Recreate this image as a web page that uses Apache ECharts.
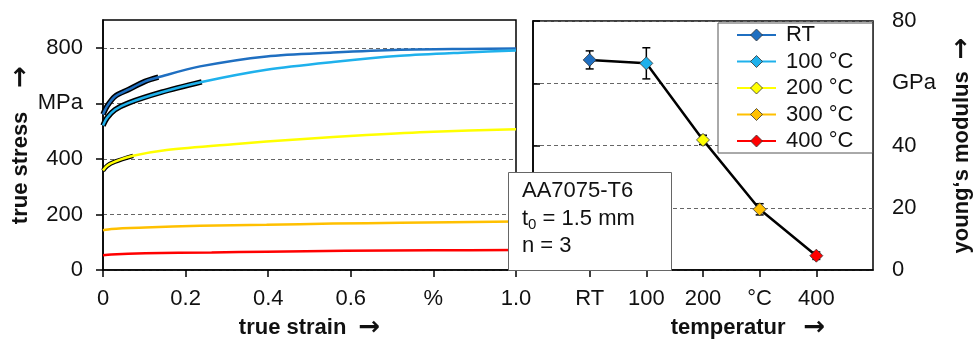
<!DOCTYPE html>
<html><head><meta charset="utf-8">
<script src="https://cdn.jsdelivr.net/npm/echarts@6/dist/echarts.min.js"></script>
<style>html,body{margin:0;padding:0;background:#fff}#c{width:977px;height:339px}</style>
</head><body><div id="c"></div>
<script>
// ---------- data ----------
const seriesNames = ['RT', '100 °C', '200 °C', '300 °C', '400 °C'];
const seriesColors = ['#1f6fc1', '#1fb1ec', '#ffff00', '#ffc000', '#ff0000'];

// true strain / true stress (MPa) pairs
const curveRT = [[0,560],[0.01,590],[0.029,625],[0.061,649],[0.102,679],[0.134,694],[0.235,733],[0.396,769],[0.557,783],[0.72,793],[0.88,796],[1.0,797]];
const curve100 = [[0,520],[0.01,548],[0.029,577],[0.061,601],[0.142,640],[0.239,677],[0.396,721],[0.557,749],[0.72,771],[0.88,783],[1.0,790]];
const curve200 = [[0,358],[0.01,375],[0.029,390],[0.073,411],[0.154,432],[0.315,453],[0.477,471],[0.638,486],[0.8,498],[1.0,507]];
const curve300 = [[0,143],[0.02,148],[0.102,153],[0.235,159],[0.396,163],[0.557,167],[0.72,170],[1.0,175]];
const curve400 = [[0,53],[0.02,56],[0.102,60],[0.263,63],[0.396,66],[0.586,69],[0.8,71],[1.0,72]];
const curves = [curveRT, curve100, curve200, curve300, curve400];
// end strain of the black measured-data overlay per curve
const blackEnds = [0.134, 0.239, 0.073, 0, 0];

// young's modulus (GPa) per temperature
const tempLabels = ['RT', '100', '200', '°C', '400'];
const tempPos = [1, 2, 3, 4, 5];
const modulus = [67.5, 66.4, 41.8, 19.5, 4.6];
const modulusErr = [2.9, 5.0, 1.5, 1.8, 1.2];

// tick labels
const stressTicks = [0, 200, 400, 600, 800];
const stressLabels = ['0', '200', '400', 'MPa', '800'];
const strainTicks = [0, 0.2, 0.4, 0.6, 0.8, 1.0];
const strainLabels = ['0', '0.2', '0.4', '0.6', '%', '1.0'];
const modTicks = [0, 20, 40, 60, 80];
const modLabels = ['0', '20', '40', 'GPa', '80'];

// ---------- chart ----------
const FF = '"Liberation Sans", Arial, sans-serif';
const AF = '"DejaVu Sans", sans-serif';
const TXT = '#111';
function lookup(ticks, labels) {
  return v => { for (let i = 0; i < ticks.length; i++) if (Math.abs(ticks[i] - v) < 1e-6) return labels[i]; return ''; };
}
const dashed = { show: true, lineStyle: { color: '#666', width: 1, type: [4, 3] } };
const axisLineBlack = { show: true, lineStyle: { color: '#000', width: 1.5 } };
const tickOut = { show: true, inside: false, length: 7, lineStyle: { color: '#000', width: 1.5 } };
const lbl = { color: TXT, fontSize: 22, fontFamily: FF };
const nameRich = (gap) => ({
  color: TXT, fontFamily: FF,
  rich: {
    t: { fontSize: 22, fontWeight: 'bold', fontFamily: FF, color: TXT, lineHeight: 26 },
    a: { fontSize: 26, fontWeight: 'bold', fontFamily: AF, color: TXT, lineHeight: 26, padding: [0, 0, 0, gap] }
  }
});

const series = [];
// black overlays (measured portions)
curves.forEach((c, i) => {
  if (blackEnds[i] <= 0) return;
  series.push({
    type: 'line', name: 'blk' + i, xAxisIndex: 0, yAxisIndex: 0,
    data: c.filter(p => p[0] <= blackEnds[i] + 1e-9),
    smooth: 0.3, showSymbol: false, silent: true,
    lineStyle: { color: '#000', width: i < 2 ? 5.5 : 4.5 }, z: 2
  });
});
curves.forEach((c, i) => {
  series.push({
    type: 'line', name: seriesNames[i], xAxisIndex: 0, yAxisIndex: 0,
    data: c, smooth: 0.3, symbol: 'diamond', showSymbol: false,
    color: seriesColors[i],
    lineStyle: { color: seriesColors[i], width: 2.5 },
    itemStyle: { color: seriesColors[i], borderColor: '#333', borderWidth: 0.8 },
    z: 3
  });
});
// error bars
series.push({
  type: 'custom', name: 'err', xAxisIndex: 1, yAxisIndex: 1, z: 3,
  data: tempPos.map((x, i) => [x, modulus[i] - modulusErr[i], modulus[i] + modulusErr[i]]),
  renderItem: (params, api) => {
    const lo = api.coord([api.value(0), api.value(1)]);
    const hi = api.coord([api.value(0), api.value(2)]);
    const w = 4;
    const st = { stroke: '#000', lineWidth: 1.5 };
    return { type: 'group', children: [
      { type: 'line', shape: { x1: lo[0], y1: lo[1], x2: hi[0], y2: hi[1] }, style: st },
      { type: 'line', shape: { x1: lo[0] - w, y1: lo[1], x2: lo[0] + w, y2: lo[1] }, style: st },
      { type: 'line', shape: { x1: hi[0] - w, y1: hi[1], x2: hi[0] + w, y2: hi[1] }, style: st }
    ]};
  }
});
series.push({
  type: 'line', name: 'E', xAxisIndex: 1, yAxisIndex: 1, z: 4,
  data: tempPos.map((x, i) => ({ value: [x, modulus[i]], itemStyle: { color: seriesColors[i] } })),
  symbol: 'diamond', symbolSize: 13, showSymbol: true,
  lineStyle: { color: '#000', width: 2.5 },
  itemStyle: { borderColor: '#333', borderWidth: 0.8 }
});

const option = {
  animation: false,
  backgroundColor: '#fff',
  textStyle: { fontFamily: FF },
  grid: [
    { left: 103, right: 461, top: 20, bottom: 69, show: true, borderColor: '#000', borderWidth: 1.5, backgroundColor: 'transparent', containLabel: false, outerBoundsMode: 'none' },
    { left: 533, right: 104, top: 21, bottom: 69, show: true, borderColor: '#000', borderWidth: 1.5, backgroundColor: 'transparent', containLabel: false, outerBoundsMode: 'none' }
  ],
  xAxis: [
    {
      type: 'value', gridIndex: 0, min: 0, max: 1, interval: 0.2,
      axisLine: axisLineBlack, axisTick: tickOut, splitLine: { show: false },
      axisLabel: Object.assign({ margin: 18, formatter: lookup(strainTicks, strainLabels) }, lbl),
      name: '{t|true strain}{a|→}', nameLocation: 'middle', nameGap: 44,
      nameTextStyle: nameRich(12)
    },
    {
      type: 'value', gridIndex: 1, min: 0, max: 6, interval: 1,
      axisLine: axisLineBlack,
      axisTick: Object.assign({ customValues: tempPos }, tickOut),
      splitLine: { show: false },
      axisLabel: Object.assign({ margin: 18, customValues: tempPos, formatter: lookup(tempPos, tempLabels) }, lbl),
      name: '{t|temperatur}{a|→}', nameLocation: 'middle', nameGap: 44,
      nameTextStyle: Object.assign(nameRich(18), { padding: [0, 0, 0, 90] })
    }
  ],
  yAxis: [
    {
      type: 'value', gridIndex: 0, min: 0, max: 900, interval: 200,
      axisLine: axisLineBlack,
      axisTick: Object.assign({ customValues: stressTicks }, tickOut),
      splitLine: dashed,
      axisLabel: Object.assign({ margin: 20, customValues: stressTicks, formatter: lookup(stressTicks, stressLabels) }, lbl),
      name: '{t|true stress}{a|→}', nameLocation: 'middle', nameGap: 68, nameRotate: 90,
      nameTextStyle: nameRich(24)
    },
    {
      type: 'value', gridIndex: 1, position: 'right', min: 0, max: 80, interval: 20,
      axisLine: axisLineBlack, axisTick: tickOut,
      splitLine: dashed,
      axisLabel: Object.assign({ margin: 19, formatter: lookup(modTicks, modLabels) }, lbl),
      name: '{t|young‘s modulus}{a|→}', nameLocation: 'middle', nameGap: 76, nameRotate: 90,
      nameTextStyle: nameRich(12)
    }
  ],
  legend: {
    data: seriesNames, orient: 'vertical', left: 718, top: 23,
    padding: [1, 19, 1, 18], itemGap: 4.5, itemWidth: 39, itemHeight: 15,
    backgroundColor: '#fff', borderColor: '#555', borderWidth: 1,
    textStyle: { color: TXT, fontSize: 22, fontFamily: FF, lineHeight: 22, padding: [0, 0, 0, 5] },
    itemStyle: { borderColor: '#333', borderWidth: 0.8 },
    selectedMode: false, z: 10
  },
  graphic: [
    {
      type: 'rect', left: 508, top: 172, z: 100, zlevel: 0,
      shape: { x: 0, y: 0, width: 163, height: 98 },
      style: { fill: '#fff', stroke: '#666', lineWidth: 1 }
    },
    {
      type: 'text', left: 522, top: 180, z: 101,
      style: {
        text: '{a|AA7075-T6}\n{a|t}{s|0}{a| = 1.5 mm}\n{a|n = 3}',
        fill: TXT, fontFamily: FF, fontSize: 22,
        rich: {
          a: { fontSize: 22, fontFamily: FF, lineHeight: 27.5, fill: TXT },
          s: { fontSize: 15, fontFamily: FF, lineHeight: 14, verticalAlign: 'bottom', fill: TXT }
        }
      }
    }
  ],
  series: series
};
const chart = echarts.init(document.getElementById('c'), null, { renderer: 'canvas' });
chart.setOption(option);
</script></body></html>
